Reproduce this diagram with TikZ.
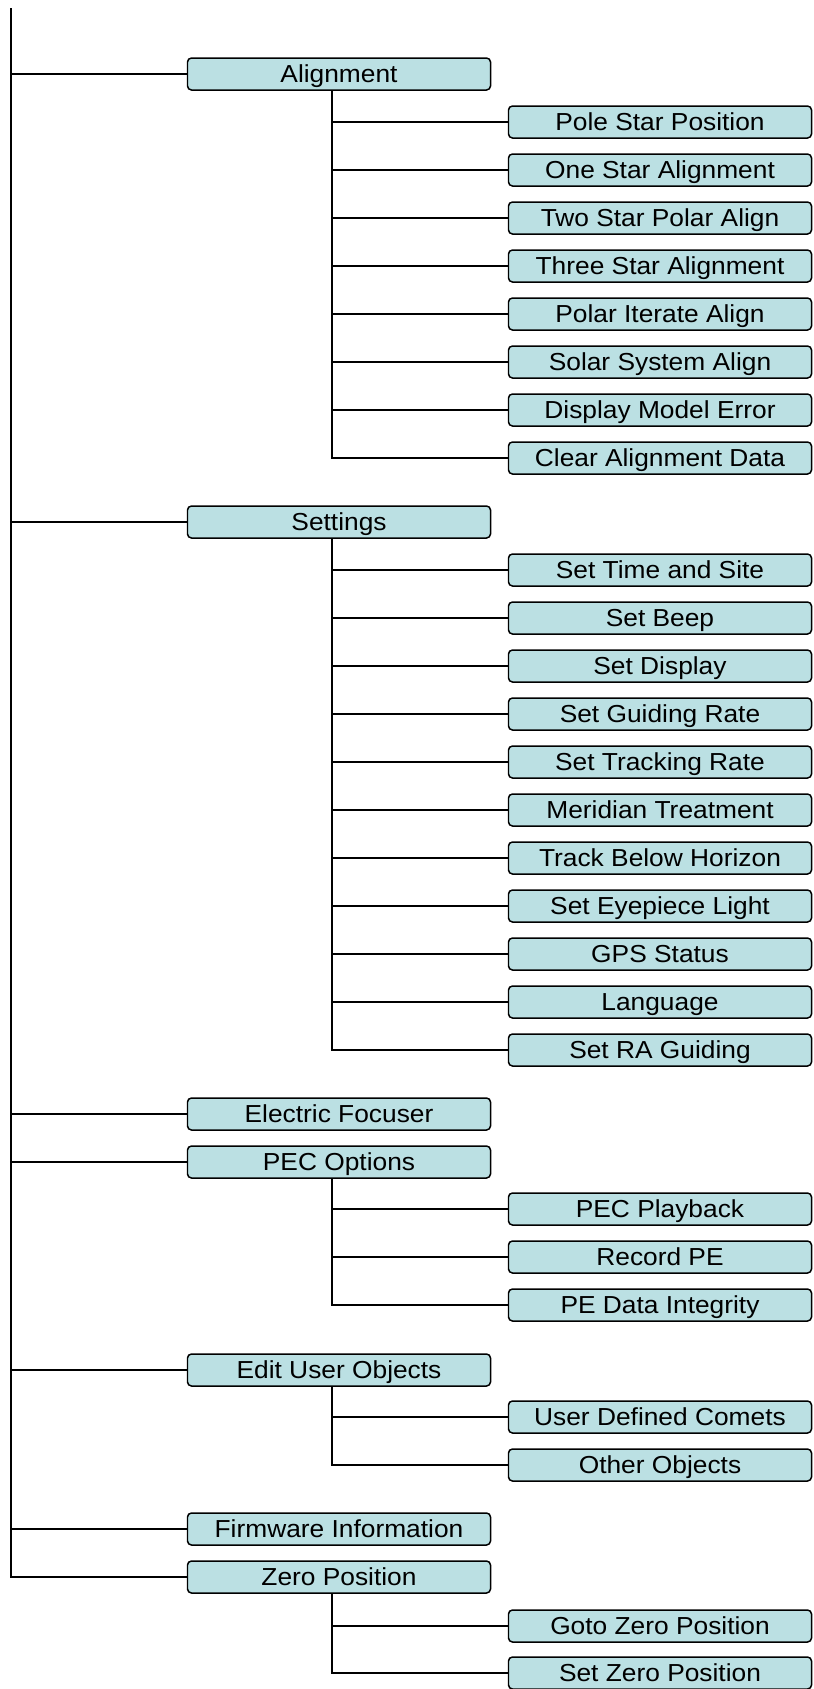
\documentclass[tikz,border=0pt]{standalone}
\usepackage{fontspec}
\setmainfont{Liberation Sans}[FakeStretch = 1.07]
\definecolor{menufill}{RGB}{187,224,227}
\tikzset{menu/.style = {draw, fill = menufill, rounded corners = 0.8mm, line width = 0.85pt, minimum width = 6.06cm, minimum height = 0.64cm, inner sep = 0pt, text height = 1.05em, text depth = 0.05em, font = \fontsize{14}{16}\selectfont}}
\tikzset{link/.style = {line width = 1.3pt}}

\begin{document}
\begin{tikzpicture}[x = 0.2mm, y = -0.2mm]
	\useasboundingbox (0,0) rectangle (814,1689);
	\coordinate (top) at (11,8);
	% first level
	\node[menu] (align) at (339,74) {Alignment};
	\node[menu] (settings) at (339,522) {Settings};
	\node[menu] (focuser) at (339,1114) {Electric Focuser};
	\node[menu] (pec) at (339,1162) {PEC Options};
	\node[menu] (user) at (339,1370) {Edit User Objects};
	\node[menu] (firmware) at (339,1529) {Firmware Information};
	\node[menu] (zero) at (339,1577) {Zero Position};
	\draw[link] (top) |- (zero.west);
	\foreach \n in {align, settings, focuser, pec, user, firmware}
	\draw[link] (\n.west) -- (\n.west -| top);
	% second level
	\coordinate (alignbus) at (332,90);
	\foreach \y/\n/\t in {122/pole/Pole Star Position, 170/onestar/One Star Alignment, 218/twostar/Two Star Polar Align, 266/threestar/Three Star Alignment, 314/iterate/Polar Iterate Align, 362/solar/Solar System Align, 410/modelerr/Display Model Error, 458/clearalign/Clear Alignment Data} {
		\node[menu] (\n) at (660,\y) {\t};
		\draw[link] (\n.west) -- (\n.west -| alignbus);
	}
	\draw[link] (alignbus) |- (clearalign.west);
	\coordinate (setbus) at (332,538);
	\foreach \y/\n/\t in {570/timesite/Set Time and Site, 618/beep/Set Beep, 666/display/Set Display, 714/guiderate/Set Guiding Rate, 762/trackrate/Set Tracking Rate, 810/meridian/Meridian Treatment, 858/horizon/Track Below Horizon, 906/eyepiece/Set Eyepiece Light, 954/gps/GPS Status, 1002/language/Language, 1050/raguide/Set RA Guiding} {
		\node[menu] (\n) at (660,\y) {\t};
		\draw[link] (\n.west) -- (\n.west -| setbus);
	}
	\draw[link] (setbus) |- (raguide.west);
	\coordinate (pecbus) at (332,1178);
	\foreach \y/\n/\t in {1209/playback/PEC Playback, 1257/record/Record PE, 1305/integrity/PE Data Integrity} {
		\node[menu] (\n) at (660,\y) {\t};
		\draw[link] (\n.west) -- (\n.west -| pecbus);
	}
	\draw[link] (pecbus) |- (integrity.west);
	\coordinate (userbus) at (332,1386);
	\foreach \y/\n/\t in {1417/comets/User Defined Comets, 1465/other/Other Objects} {
		\node[menu] (\n) at (660,\y) {\t};
		\draw[link] (\n.west) -- (\n.west -| userbus);
	}
	\draw[link] (userbus) |- (other.west);
	\coordinate (zerobus) at (332,1593);
	\foreach \y/\n/\t in {1626/gotozero/Goto Zero Position, 1673/setzero/Set Zero Position} {
		\node[menu] (\n) at (660,\y) {\t};
		\draw[link] (\n.west) -- (\n.west -| zerobus);
	}
	\draw[link] (zerobus) |- (setzero.west);
\end{tikzpicture}
\end{document}
